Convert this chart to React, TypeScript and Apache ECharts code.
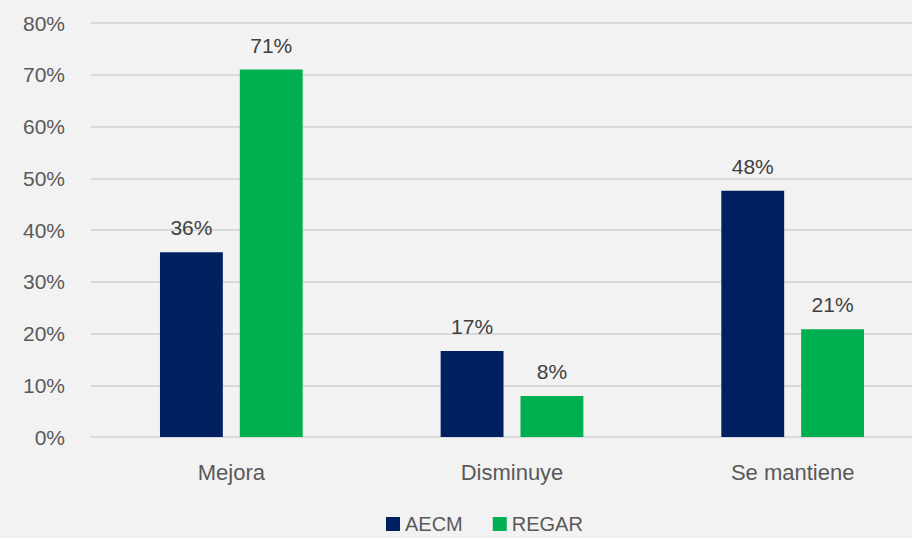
import React, { useEffect, useRef } from "react";
import * as echarts from "echarts";

const categories = ["Mejora", "Disminuye", "Se mantiene"];
const aecm = [35.7, 16.6, 47.6];
const regar = [71.0, 7.9, 20.8];
const seriesNames = ["AECM", "REGAR"];
const yTicks = [0, 10, 20, 30, 40, 50, 60, 70, 80];

const FONT = "'Liberation Sans', Arial, sans-serif";
const TEXT = "#595959";

export default function App() {
  const ref = useRef<HTMLDivElement>(null);
  useEffect(() => {
    if (!ref.current) return;
    const chart = echarts.init(ref.current, null, { renderer: "svg" });
    const label = {
      show: true,
      position: "top",
      distance: 14,
      color: "#404040",
      fontSize: 21,
      fontFamily: FONT,
      formatter: (p: any) => Math.round(p.value) + "%",
    };
    chart.setOption({
      animation: false,
      backgroundColor: "#f2f2f2",
      textStyle: { fontFamily: FONT },
      grid: { left: 91, right: 0, top: 23, bottom: 101 },
      legend: {
        data: seriesNames,
        top: 514,
        left: 386,
        padding: 0,
        itemWidth: 14,
        itemHeight: 14,
        itemGap: 30,
        icon: "rect",
        textStyle: { color: TEXT, fontSize: 20, fontFamily: FONT },
      },
      xAxis: {
        type: "category",
        data: categories,
        axisLine: { lineStyle: { color: "#d9d9d9", width: 2 } },
        axisTick: { show: false },
        axisLabel: { color: TEXT, fontSize: 22, fontFamily: FONT, margin: 24 },
      },
      yAxis: {
        type: "value",
        min: yTicks[0],
        max: yTicks[yTicks.length - 1],
        interval: 10,
        axisLine: { show: false },
        axisTick: { show: false },
        splitLine: { lineStyle: { color: "#d9d9d9", width: 2 } },
        axisLabel: {
          color: TEXT,
          fontSize: 21,
          fontFamily: FONT,
          margin: 26,
          formatter: (v: number) => v + "%",
        },
      },
      series: [
        {
          name: seriesNames[0],
          type: "bar",
          data: aecm,
          barWidth: "22.4%",
          barGap: "27%",
          itemStyle: { color: "#002060" },
          label,
        },
        {
          name: seriesNames[1],
          type: "bar",
          data: regar,
          barWidth: "22.4%",
          barGap: "27%",
          itemStyle: { color: "#00B050" },
          label,
        },
      ],
    });
    return () => chart.dispose();
  }, []);
  return (
    <div
      style={{
        position: "fixed",
        left: 0,
        top: 0,
        width: 912,
        height: 538,
        overflow: "hidden",
        background: "#f2f2f2",
      }}
    >
      <div ref={ref} style={{ width: 933, height: 538 }} />
    </div>
  );
}
